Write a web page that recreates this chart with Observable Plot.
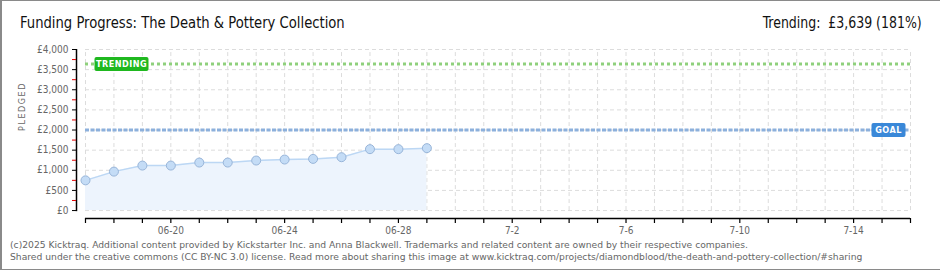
<!DOCTYPE html>
<html>
<head>
<meta charset="utf-8">
<script src="https://cdn.jsdelivr.net/npm/d3@7"></script>
<script src="https://cdn.jsdelivr.net/npm/@observablehq/plot@0.6"></script>
<style>
  html, body { margin: 0; padding: 0; background: #fff; }
  #wrap { position: relative; width: 938px; height: 268px; border: 1px solid #8a8a8a; border-left-width: 2px; box-sizing: content-box; overflow: hidden; font-family: "DejaVu Sans", sans-serif; font-stretch: condensed; }
  #title { position: absolute; left: 18px; top: 12px; font-size: 16px; color: #111; white-space: nowrap; transform: scaleX(0.915); transform-origin: left center; }
  #trend { position: absolute; right: 18px; top: 12px; font-size: 16px; color: #111; white-space: nowrap; transform: scaleX(0.87); transform-origin: right center; }
  #chart { position: absolute; left: -2px; top: 37px; }
  #foot { position: absolute; left: 8px; top: 238px; font-family: "DejaVu Sans", Verdana, sans-serif; font-stretch: normal; font-size: 9.2px; line-height: 12px; color: #666; white-space: nowrap; }
  #chart svg text { font-stretch: condensed; }
</style>
</head>
<body>
<div id="wrap">
  <div id="title">Funding Progress: The Death &amp; Pottery Collection</div>
  <div id="trend">Trending:&nbsp; £3,639 (181%)</div>
  <div id="chart"></div>
  <div id="foot">(c)2025 Kicktraq. Additional content provided by Kickstarter Inc. and Anna Blackwell. Trademarks and related content are owned by their respective companies.<br>Shared under the creative commons (CC BY-NC 3.0) license. Read more about sharing this image at www.kicktraq.com/projects/diamondblood/the-death-and-pottery-collection/#sharing</div>
</div>
<script>
// ---- data ----
const dates = ["2025-06-17","2025-06-18","2025-06-19","2025-06-20","2025-06-21","2025-06-22","2025-06-23","2025-06-24","2025-06-25","2025-06-26","2025-06-27","2025-06-28","2025-06-29"];
const pledged = [750, 967, 1117, 1117, 1192, 1192, 1242, 1267, 1283, 1325, 1525, 1525, 1550];
const goal = 2000;
const trending = 3639;
const periodStart = "2025-06-17";
const periodEnd = "2025-07-16";
const xLabelDates = ["2025-06-20","2025-06-24","2025-06-28","2025-07-02","2025-07-06","2025-07-10","2025-07-14"];
const xLabels = ["06-20","06-24","06-28","7-2","7-6","7-10","7-14"];
const yTicks = [0, 500, 1000, 1500, 2000, 2500, 3000, 3500, 4000];
const yLabels = ["£0","£500","£1,000","£1,500","£2,000","£2,500","£3,000","£3,500","£4,000"];
const yMinor = [250, 750, 1250, 1750, 2250, 2750, 3250, 3750];

// ---- build ----
const P = s => new Date(s + "T00:00:00Z");
const data = dates.map((d, i) => ({date: P(d), value: pledged[i]}));
const start = P(periodStart), end = P(periodEnd);
const days = d3.utcDay.range(start, d3.utcDay.offset(end, 1));
const domainStart = new Date(+start - 0.316 * 864e5);
const axisBase = -197.5;
const labelDates = xLabelDates.map(P);
const fontAx = "'DejaVu Sans', sans-serif";

const chart = Plot.plot({
  width: 940,
  height: 200,
  marginLeft: 76,
  marginRight: 30,
  marginTop: 11,
  marginBottom: 20,
  style: {fontFamily: fontAx, fontSize: "10px", background: "transparent"},
  x: {type: "utc", domain: [domainStart, end], axis: null},
  y: {domain: [axisBase, 4000], axis: null},
  marks: [
    // grid
    Plot.ruleX(days, {y1: 0, y2: 4000, stroke: "#dcdcdc", strokeDasharray: "4,3"}),
    Plot.ruleY(yTicks, {x1: start, x2: end, stroke: "#dcdcdc", strokeDasharray: "4,3"}),
    // area + line + dots
    Plot.areaY(data, {x: "date", y: "value", fill: "#edf4fd"}),
    Plot.lineY(data, {x: "date", y: "value", stroke: "#bcd7f4", strokeWidth: 1.5}),
    // goal + trending lines
    Plot.ruleY([goal], {x1: start, x2: end, stroke: "#8cb0dc", strokeWidth: 3, strokeDasharray: "4,1.5"}),
    Plot.ruleY([trending], {x1: start, x2: end, stroke: "#8fd07c", strokeWidth: 3, strokeDasharray: "3,3"}),
    Plot.dot(data, {x: "date", y: "value", r: 4.5, fill: "#c4dcf6", stroke: "#98b5d9", strokeWidth: 1}),
    // y axis
    Plot.ruleX([domainStart], {y1: -28, y2: 4000, stroke: "#000", strokeWidth: 1.5}),
    Plot.axisY(yMinor, {anchor: "left", label: null, tickSize: 4, tickFormat: () => "", stroke: "#e00000"}),
    Plot.axisY(yTicks, {anchor: "left", label: null, tickSize: 4, tickPadding: 4, stroke: "#000", fill: "#666", fontSize: 10,
      tickFormat: d => yLabels[yTicks.indexOf(d)]}),
    Plot.text(["PLEDGED"], {frameAnchor: "left", dx: -54, dy: -3, rotate: -90, fill: "#666", fontSize: 9, className: "pledged"}),
    // x axis
    Plot.ruleY([axisBase], {x1: start, x2: end, stroke: "#000", strokeWidth: 1.5}),
    Plot.axisX(days, {anchor: "bottom", label: null, tickSize: 5, tickFormat: () => "", stroke: "#000", strokeWidth: 1.2}),
    Plot.axisX(labelDates, {anchor: "bottom", label: null, tickSize: 0, tickPadding: 8, fill: "#666", fontSize: 10,
      tickFormat: d => xLabels[labelDates.findIndex(v => +v === +d)]}),
    // labels
    Plot.text([trending], {y: d => d, frameAnchor: "left", textAnchor: "middle", dx: 45, text: () => "TRENDING", fill: "#fff", fontSize: 9, fontWeight: "bold", className: "lbl-trend"}),
    Plot.text([goal], {y: d => d, frameAnchor: "right", textAnchor: "middle", dx: -22, text: () => "GOAL", fill: "#fff", fontSize: 9, fontWeight: "bold", className: "lbl-goal"})
  ]
});
document.getElementById("chart").appendChild(chart);

// letter spacing + label boxes
chart.querySelectorAll(".pledged text").forEach(t => t.setAttribute("letter-spacing", "1.5"));
function boxify(cls, color, w) {
  chart.querySelectorAll("." + cls + " text").forEach(t => {
    t.setAttribute("letter-spacing", "0.5");
    const b = t.getBBox();
    const r = document.createElementNS("http://www.w3.org/2000/svg", "rect");
    const cx = b.x + b.width / 2, cy = b.y + b.height / 2;
    r.setAttribute("x", cx - w / 2);
    r.setAttribute("y", cy - 7);
    r.setAttribute("width", w);
    r.setAttribute("height", 14);
    r.setAttribute("rx", 2);
    r.setAttribute("fill", color);
    const tr = t.getAttribute("transform");
    if (tr) r.setAttribute("transform", tr);
    t.parentNode.insertBefore(r, t);
  });
}
boxify("lbl-trend", "#1fb81f", 54);
boxify("lbl-goal", "#3a88d8", 34);
</script>
</body>
</html>
